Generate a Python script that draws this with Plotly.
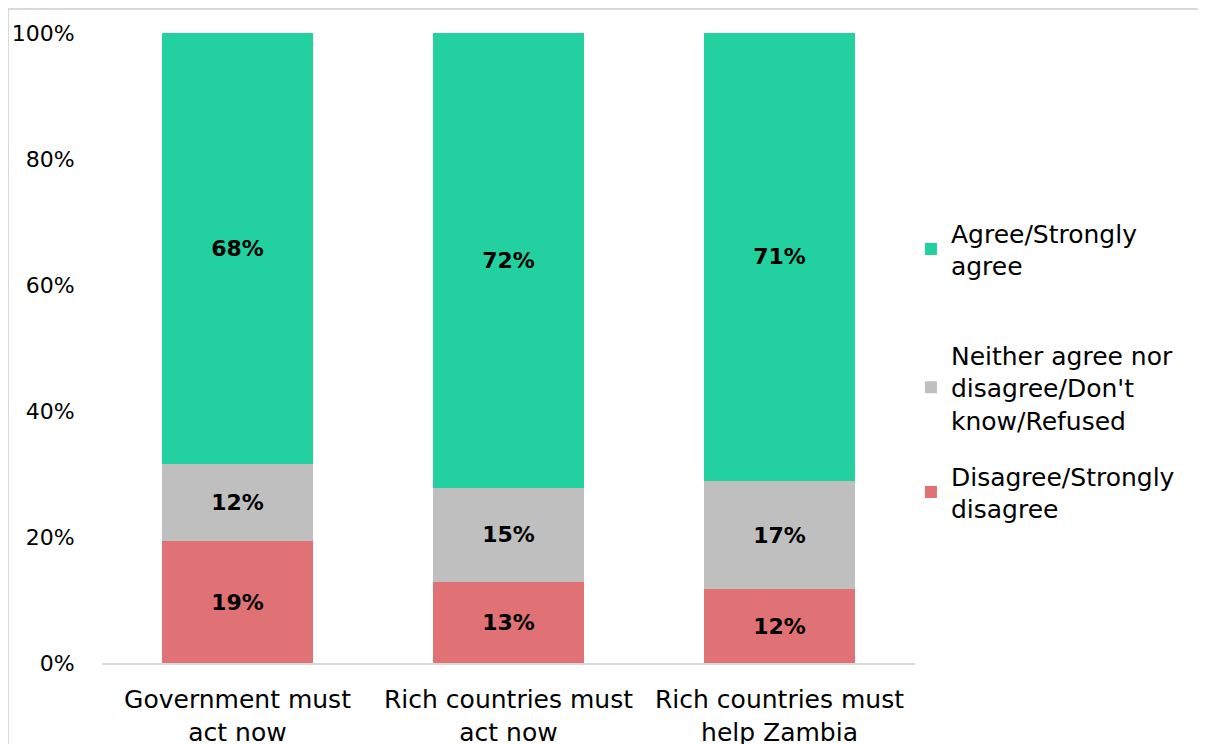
import plotly.graph_objects as go

# --- data ---
categories = ["Government must<br>act now", "Rich countries must<br>act now", "Rich countries must<br>help Zambia"]
disagree = [19.3, 12.9, 11.7]
neither = [12.3, 14.9, 17.2]
agree = [68.4, 72.2, 71.1]

series_names = ["Disagree/Strongly<br>disagree", "Neither agree nor<br>disagree/Don't<br>know/Refused", "Agree/Strongly<br>agree"]
series_values = [disagree, neither, agree]
series_colors = ["#E07275", "#BFBFBF", "#23D1A0"]
legend_ids = ["legend3", "legend2", "legend"]

FONT = "Century Gothic, DejaVu Sans, sans-serif"

# page has an 8px body margin, so figure is a bit smaller than the window
W, H = 1198, 736
L, R, T, B = 94, 291, 25, 81
pw, ph = W - L - R, H - T - B

fig = go.Figure()
for name, vals, color, lg in zip(series_names, series_values, series_colors, legend_ids):
    fig.add_trace(go.Bar(
        x=categories,
        y=vals,
        name=name,
        legend=lg,
        marker=dict(color=color, line=dict(width=0)),
        text=[f"<b>{round(v)}%</b>" for v in vals],
        textposition="inside",
        insidetextanchor="middle",
        textangle=0,
        constraintext="none",
        textfont=dict(family=FONT, size=22, color="#000000"),
        hoverinfo="skip",
    ))

# outer chart border (light grey frame)
fig.add_shape(type="rect", xref="paper", yref="paper",
              x0=(0 - L) / pw, x1=(W + 10 - L) / pw,
              y0=-(B + 20) / ph, y1=(ph + T - 1) / ph,
              line=dict(color="#D9D9D9", width=2), layer="below")


def legend_at(ytop):
    # ytop: page pixel where the legend box starts
    return dict(
        x=0.995, xanchor="left",
        y=(663 - ytop) / ph, yanchor="top",
        font=dict(family=FONT, size=25, color="#000000"),
        itemwidth=30,
        bgcolor="rgba(0,0,0,0)",
    )


fig.update_layout(
    width=W, height=H,
    barmode="stack",
    bargap=0.445,
    margin=dict(l=L, r=R, t=T, b=B, autoexpand=False),
    paper_bgcolor="white",
    plot_bgcolor="white",
    font=dict(family=FONT, size=23, color="#000000"),
    showlegend=True,
    legend=legend_at(210),
    legend2=legend_at(332),
    legend3=legend_at(453),
)
fig.update_xaxes(
    showgrid=False, showline=True, linecolor="#D9D9D9", linewidth=2,
    ticks="outside", ticklen=13, tickcolor="rgba(0,0,0,0)",
    tickfont=dict(family=FONT, size=25),
    automargin=False,
)
fig.update_yaxes(
    range=[0, 100], tickvals=[0, 20, 40, 60, 80, 100],
    ticktext=["0%", "20%", "40%", "60%", "80%", "100%"],
    showgrid=False, zeroline=False, showline=False,
    ticks="outside", ticklen=22, tickcolor="rgba(0,0,0,0)",
    tickfont=dict(family=FONT, size=22),
    automargin=False,
)

fig.write_html("out.html")
